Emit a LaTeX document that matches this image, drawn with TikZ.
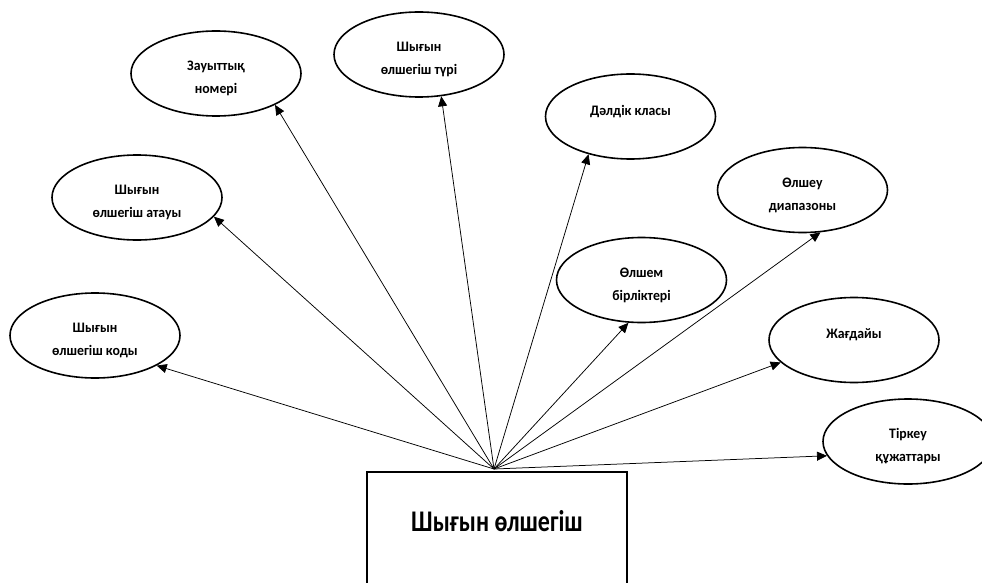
\documentclass[tikz,border=0pt]{standalone}
\usepackage{fontspec}
\setmainfont{Carlito}
\newfontfamily\bigfont[FakeStretch=0.8]{Carlito}
\newfontfamily\smallfont[FakeStretch=0.95]{Carlito}
\usetikzlibrary{shapes.geometric,arrows.meta}
\tikzset{
  attr/.style={draw, line width=1.6pt, ellipse, minimum width=170pt, minimum height=85pt,
    inner sep=0pt},
  attrtext/.style={inner sep=0pt, align=center, font=\smallfont\bfseries\fontsize{14.5}{23}\selectfont},
  main/.style={draw, line width=1.6pt, rectangle, inner sep=0pt},
  link/.style={line width=0.75pt, -{Triangle[length=10pt,width=9pt]}}
}
\newcommand\attrnode[3]{%
  \node[attr] (#1) at (#2) {};
  \node[attrtext] (#1-t) at ([yshift=-5pt]#1.center) {#3};}
\begin{document}
\begin{tikzpicture}[x=1pt,y=-1pt]
\useasboundingbox (0,0) rectangle (982,583);
\clip (0,0) rectangle (982,583);
\node[main, minimum width=260pt, minimum height=140pt, anchor=north west] (box) at (366,471) {};
\node[font=\bigfont\bfseries\fontsize{30}{36}\selectfont] (boxtext) at (497,521) {Шығын өлшегіш};
\coordinate (hub) at (494,469);
\attrnode{nomer}{216,73.5}{Зауыттық\\номері}
\attrnode{turi}{419,54.5}{Шығын\\өлшегіш түрі}
\attrnode{atauy}{137,197.5}{Шығын\\өлшегіш атауы}
\attrnode{kody}{95,335.5}{Шығын\\өлшегіш коды}
\attrnode{daldik}{630.5,116.5}{Дәлдік класы\\~}
\attrnode{diapazon}{802.5,190}{Өлшеу\\диапазоны}
\attrnode{birlik}{641.5,280}{Өлшем\\бірліктері}
\attrnode{zhagday}{854,340}{Жағдайы\\~}
\attrnode{tirkeu}{908,441.5}{Тіркеу\\құжаттары}
\draw[link] (hub) -- (kody.-26);
\draw[link] (hub) -- (atauy.-14);
\draw[link] (hub) -- (nomer.-28);
\draw[link] (hub) -- (turi.-62);
\draw[link] (hub) -- (daldik.222);
\draw[link] (hub) -- (birlik.253);
\draw[link] (hub) -- (diapazon.-67);
\draw[link] (hub) -- (zhagday.197);
\draw[link] (hub) -- (tirkeu.190);
\end{tikzpicture}
\end{document}
